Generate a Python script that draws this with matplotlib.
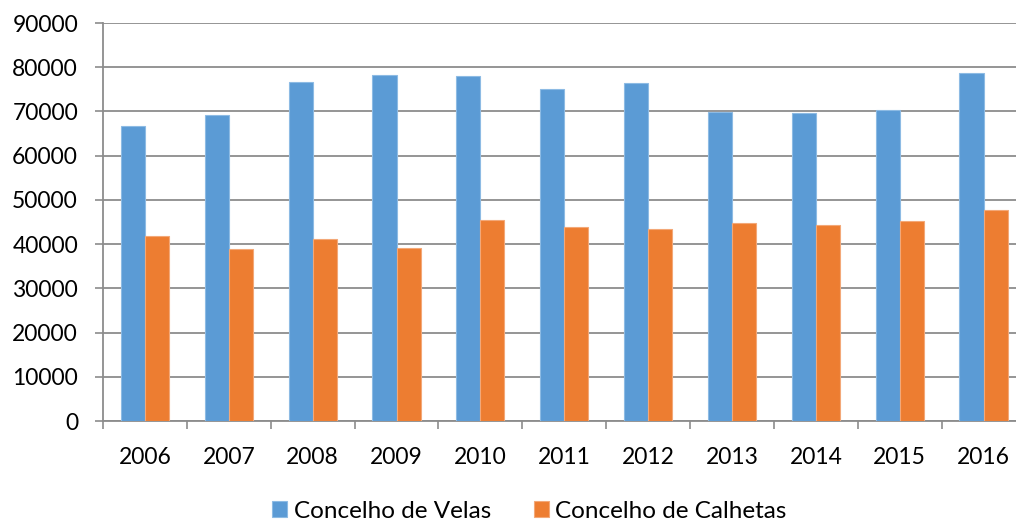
import matplotlib
matplotlib.use("Agg")
import matplotlib.pyplot as plt
import numpy as np

plt.rcParams["font.family"] = ["Lato", "DejaVu Sans"]

years = ["2006", "2007", "2008", "2009", "2010", "2011", "2012", "2013", "2014", "2015", "2016"]
velas = [66700, 69200, 76600, 78300, 78000, 75100, 76400, 69800, 69600, 70400, 78700]
calhetas = [41800, 39000, 41200, 39200, 45500, 43800, 43500, 44700, 44300, 45200, 47700]

blue = "#5B9BD5"
orange = "#ED7D31"
grid_col = "#8c8c8c"

fig = plt.figure(figsize=(10.16, 5.2), dpi=100)
ax = fig.add_axes([103 / 1016, 99 / 520, 922.5 / 1016, 398 / 520])

x = np.arange(len(years))
w = 0.287
ax.bar(x - w / 2, velas, w, color=blue, edgecolor="#8dbbe4", linewidth=0.8,
       label="Concelho de Velas", zorder=3)
ax.bar(x + w / 2, calhetas, w, color=orange, edgecolor="#f3a878", linewidth=0.8,
       label="Concelho de Calhetas", zorder=3)

ax.set_xlim(-0.5, len(years) - 0.5)
ax.set_ylim(0, 90000)
ax.set_yticks(np.arange(0, 90001, 10000))
ax.yaxis.grid(True, color=grid_col, linewidth=1.3, zorder=0)
ax.set_axisbelow(True)

ax.set_xticks(x)
ax.set_xticklabels(years)
ax.set_xticks(np.arange(-0.5, len(years), 1.0), minor=True)
ax.tick_params(axis="x", which="major", length=0, pad=19, labelsize=16.5)
ax.tick_params(axis="x", which="minor", length=6, width=1.2, color=grid_col)
ax.tick_params(axis="y", length=6, width=1.2, color=grid_col, pad=12, labelsize=16.5)

for s in ["top", "right"]:
    ax.spines[s].set_visible(False)
for s in ["left", "bottom"]:
    ax.spines[s].set_color(grid_col)
    ax.spines[s].set_linewidth(1.3)

fig.legend(loc="lower center", bbox_to_anchor=(0.521, -0.045), ncol=2, frameon=False,
           fontsize=17.5, handlelength=0.62, handleheight=0.62, handletextpad=0.27,
           columnspacing=1.75)

fig.savefig("out.png", dpi=100)
